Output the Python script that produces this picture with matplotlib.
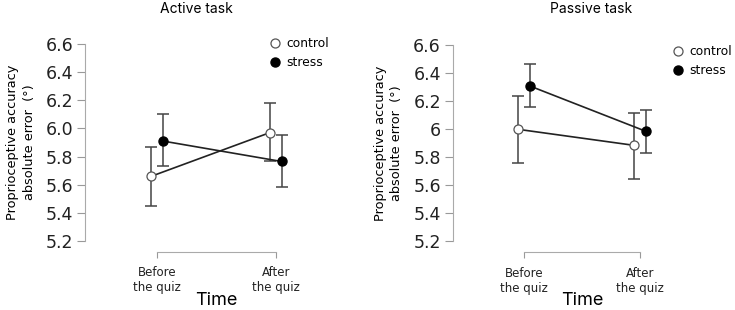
import matplotlib.pyplot as plt
import matplotlib.transforms as mtransforms
from matplotlib.lines import Line2D

times = ["Before\nthe quiz", "After\nthe quiz"]
yticks = [5.2, 5.4, 5.6, 5.8, 6.0, 6.2, 6.4, 6.6]

# active task
act_control = [5.66, 5.97]
act_control_lo = [5.45, 5.77]
act_control_hi = [5.865, 6.18]
act_stress = [5.91, 5.765]
act_stress_lo = [5.73, 5.585]
act_stress_hi = [6.10, 5.95]

# passive task
pas_control = [6.00, 5.885]
pas_control_lo = [5.76, 5.645]
pas_control_hi = [6.24, 6.12]
pas_stress = [6.31, 5.985]
pas_stress_lo = [6.16, 5.83]
pas_stress_hi = [6.465, 6.135]

dodge = 0.05
label_font = "Inter"


def draw_panel(ax, title, title_x, ctrl, clo, chi, strs, slo, shi, tick_fmt, leg_xy):
    x = [0, 1]
    xc = [i - dodge for i in x]
    xs = [i + dodge for i in x]
    err_c = [[c - l for c, l in zip(ctrl, clo)], [h - c for c, h in zip(ctrl, chi)]]
    err_s = [[s - l for s, l in zip(strs, slo)], [h - s for s, h in zip(strs, shi)]]
    ax.errorbar(xc, ctrl, yerr=err_c, fmt="none", ecolor="#444444", elinewidth=1.1,
                capsize=4.5, capthick=1.1, zorder=2)
    ax.errorbar(xs, strs, yerr=err_s, fmt="none", ecolor="#444444", elinewidth=1.1,
                capsize=4.5, capthick=1.1, zorder=2)
    ax.plot(xc, ctrl, color="#222222", lw=1.2, zorder=3)
    ax.plot(xs, strs, color="#222222", lw=1.2, zorder=3)
    ax.plot(xc, ctrl, "o", ms=6.5, mfc="white", mec="#555555", mew=0.9, zorder=4)
    ax.plot(xs, strs, "o", ms=6.5, mfc="black", mec="black", zorder=4)

    ax.set_xlim(-0.61, 1.45)
    ax.set_ylim(5.2, 6.6)
    ax.tick_params(axis="y", labelsize=12.5, length=5.5, color="#999999", pad=3, labelcolor="#222222")
    ax.tick_params(axis="x", length=4.3, color="#999999", pad=6, labelsize=8.5, labelcolor="#222222")
    ax.set_yticks(yticks)
    ax.set_yticklabels([tick_fmt(v) for v in yticks])
    ax.set_xticks(x)
    ax.set_xticklabels(times, fontsize=8.5, family=label_font, linespacing=1.2)
    for s in ["top", "right"]:
        ax.spines[s].set_visible(False)
    ax.spines["left"].set_color("#aaaaaa")
    ax.spines["bottom"].set_color("#aaaaaa")
    ax.spines["left"].set_bounds(5.2, 6.6)
    ax.spines["bottom"].set_bounds(0, 1)
    ax.spines["bottom"].set_position(("outward", 8))
    ax.set_xlabel("Time", fontsize=13, family=label_font)
    trans = mtransforms.blended_transform_factory(ax.transData, fig.transFigure)
    ax.xaxis.set_label_coords(0.5, 1 - 309 / 310, transform=trans)
    ax.xaxis.label.set_va("bottom")
    ax.set_ylabel("Proprioceptive accuracy\nabsolute error  (°)", fontsize=9.3,
                  labelpad=7, linespacing=1.35)
    fig.text(title_x, 0.995, title, ha="center", va="top", fontsize=10, family=label_font)

    handles = [
        Line2D([], [], ls="none", marker="o", ms=6.5, mfc="white", mec="#555555", mew=0.9),
        Line2D([], [], ls="none", marker="o", ms=6.5, mfc="black", mec="black"),
    ]
    ax.legend(handles, ["control", "stress"], loc="upper left", bbox_to_anchor=leg_xy,
              bbox_transform=fig.transFigure, frameon=False, fontsize=8.8,
              handlelength=0.8, handletextpad=0.5, labelspacing=0.5, borderaxespad=0,
              borderpad=0)


fig = plt.figure(figsize=(7.35, 3.1), dpi=100)
ax1 = fig.add_axes([85 / 735, 1 - 241 / 310, 244 / 735, 197 / 310])
ax2 = fig.add_axes([452.7 / 735, 1 - 241.3 / 310, 240 / 735, 196 / 310])

draw_panel(ax1, "Active task", 196 / 735, act_control, act_control_lo, act_control_hi,
           act_stress, act_stress_lo, act_stress_hi, lambda v: f"{v:.1f}",
           (270 / 735, 1 - 37 / 310))
draw_panel(ax2, "Passive task", 591 / 735, pas_control, pas_control_lo, pas_control_hi,
           pas_stress, pas_stress_lo, pas_stress_hi, lambda v: f"{v:g}",
           (673 / 735, 1 - 45 / 310))

fig.savefig("out.png", dpi=100)
